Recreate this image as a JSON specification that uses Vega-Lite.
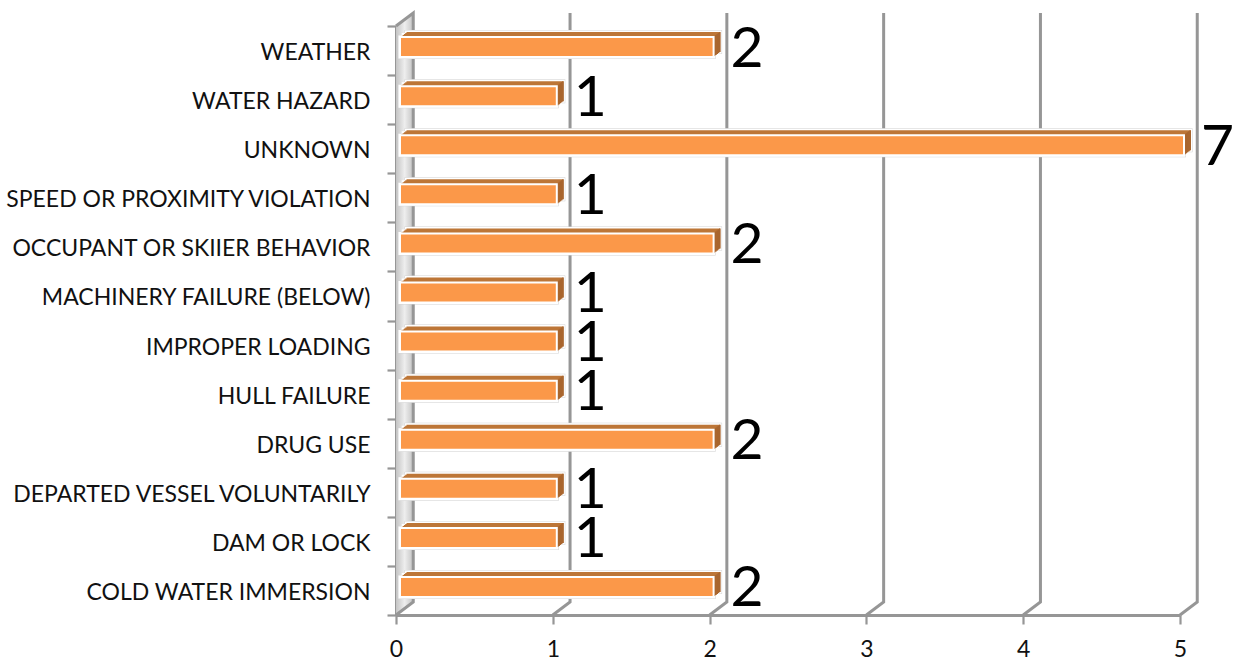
{"$schema":"https://vega.github.io/schema/vega-lite/v6.json","width":784,"height":589,"autosize":{"type":"none"},"padding":{"left":396,"top":26,"right":56,"bottom":45},"background":"white","config":{"view":{"stroke":null}},
"resolve":{"scale":{"x":"independent","y":"independent"},"axis":{"x":"independent","y":"independent"}},
"layer":[
{"data":{"values":[{"px":0,"y0":0,"y1":1},{"px":0.11,"y0":0.0221,"y1":1.0221}]},"mark":{"type":"area","clip":false,"fill":{"gradient":"linear","x1":0,"y1":0,"x2":1,"y2":0,"stops":[{"offset":0,"color":"#c4c4c4"},{"offset":0.5,"color":"#eeeeee"},{"offset":1,"color":"#c4c4c4"}]}},
"encoding":{"x":{"field":"px","type":"quantitative","axis":null,"scale":{"domain":[0,5],"nice":false}},"y":{"field":"y0","type":"quantitative","axis":null,"scale":{"domain":[0,1],"nice":false,"zero":false}},"y2":{"field":"y1"}}},
{"data":{"values":[
{"g":0,"s":0,"px":0,"py":1},{"g":0,"s":1,"px":0.11,"py":1.0221},{"g":0,"s":2,"px":0.11,"py":0.0221},{"g":0,"s":3,"px":0,"py":0},
{"g":1,"s":0,"px":1,"py":0},{"g":1,"s":1,"px":1.11,"py":0.0221},{"g":1,"s":2,"px":1.11,"py":1.0221},
{"g":2,"s":0,"px":2,"py":0},{"g":2,"s":1,"px":2.11,"py":0.0221},{"g":2,"s":2,"px":2.11,"py":1.0221},
{"g":3,"s":0,"px":3,"py":0},{"g":3,"s":1,"px":3.11,"py":0.0221},{"g":3,"s":2,"px":3.11,"py":1.0221},
{"g":4,"s":0,"px":4,"py":0},{"g":4,"s":1,"px":4.11,"py":0.0221},{"g":4,"s":2,"px":4.11,"py":1.0221},
{"g":5,"s":0,"px":5,"py":0},{"g":5,"s":1,"px":5.11,"py":0.0221},{"g":5,"s":2,"px":5.11,"py":1.0221}
]},"mark":{"type":"line","color":"#969696","strokeWidth":3,"clip":false,"interpolate":"linear"},
"encoding":{"x":{"field":"px","type":"quantitative","axis":null,"scale":{"domain":[0,5],"nice":false}},"y":{"field":"py","type":"quantitative","axis":null,"scale":{"domain":[0,1],"nice":false,"zero":false}},"detail":{"field":"g"},"order":{"field":"s"}}},
{"data":{"values":[
{"cause":"WEATHER","count":2},{"cause":"WATER HAZARD","count":1},{"cause":"UNKNOWN","count":7},{"cause":"SPEED OR PROXIMITY VIOLATION","count":1},{"cause":"OCCUPANT OR SKIIER BEHAVIOR","count":2},{"cause":"MACHINERY FAILURE (BELOW)","count":1},{"cause":"IMPROPER LOADING","count":1},{"cause":"HULL FAILURE","count":1},{"cause":"DRUG USE","count":2},{"cause":"DEPARTED VESSEL VOLUNTARILY","count":1},{"cause":"DAM OR LOCK","count":1},{"cause":"COLD WATER IMMERSION","count":2}]},
"encoding":{
"y":{"field":"cause","type":"nominal","sort":null,"title":null,"scale":{"paddingInner":0,"paddingOuter":0},"axis":{"domain":true,"domainColor":"#969696","domainWidth":3,"tickColor":"#969696","tickWidth":2.2,"tickSize":9,"tickBand":"extent","labelFont":"Lato","labelFontSize":23,"labelColor":"#111111","labelPadding":17,"labelLimit":400,"labelOffset":2,"grid":false}},
"x":{"field":"count","type":"quantitative","title":null,"scale":{"domain":[0,5],"clamp":true,"nice":false},"axis":{"values":[0,1,2,3,4,5],"format":"d","grid":false,"domain":true,"domainColor":"#969696","domainWidth":3,"tickColor":"#969696","tickWidth":2.2,"tickSize":9,"labelFont":"Lato","labelFontSize":23,"labelFlush":false,"labelColor":"#111111","labelPadding":14}}},
"layer":[
{"mark":{"type":"bar","size":20,"fill":"white","stroke":"#d4d4d4","strokeWidth":4,"xOffset":4,"x2Offset":4,"yOffset":-3.5}},
{"mark":{"type":"bar","size":20,"fill":"white","stroke":"#d4d4d4","strokeWidth":4,"xOffset":10.5,"x2Offset":10.5,"yOffset":-8.5}},
{"mark":{"type":"bar","size":20,"fill":"white","stroke":"white","strokeWidth":3,"xOffset":4,"x2Offset":4,"yOffset":-3.5}},
{"mark":{"type":"bar","size":20,"fill":"white","stroke":"white","strokeWidth":3,"xOffset":7.2,"x2Offset":7.2,"yOffset":-6}},
{"mark":{"type":"bar","size":20,"fill":"white","stroke":"white","strokeWidth":3,"xOffset":10.5,"x2Offset":10.5,"yOffset":-8.5}},
{"mark":{"type":"bar","size":20,"fill":"#BD7637","xOffset":5.3,"x2Offset":5.3,"yOffset":-4.5}},
{"mark":{"type":"bar","size":20,"fill":"#BD7637","xOffset":6.6,"x2Offset":6.6,"yOffset":-5.5}},
{"mark":{"type":"bar","size":20,"fill":"#BD7637","xOffset":7.9,"x2Offset":7.9,"yOffset":-6.5}},
{"mark":{"type":"bar","size":20,"fill":"#BD7637","xOffset":9.2,"x2Offset":9.2,"yOffset":-7.5}},
{"mark":{"type":"bar","size":20,"fill":"#BD7637","xOffset":10.5,"x2Offset":10.5,"yOffset":-8.5}},
{"mark":{"type":"tick","size":20,"thickness":1.6,"color":"#A8652E","opacity":1,"xOffset":5,"yOffset":-4.5}},
{"mark":{"type":"tick","size":20,"thickness":1.6,"color":"#A8652E","opacity":1,"xOffset":6.3,"yOffset":-5.5}},
{"mark":{"type":"tick","size":20,"thickness":1.6,"color":"#A8652E","opacity":1,"xOffset":7.6,"yOffset":-6.5}},
{"mark":{"type":"tick","size":20,"thickness":1.6,"color":"#A8652E","opacity":1,"xOffset":8.9,"yOffset":-7.5}},
{"mark":{"type":"tick","size":20,"thickness":1.6,"color":"#A8652E","opacity":1,"xOffset":10.2,"yOffset":-8.5}},
{"mark":{"type":"bar","size":20,"fill":"#FB9849","stroke":"white","strokeWidth":2,"xOffset":4,"x2Offset":4,"yOffset":-3.5}},
{"mark":{"type":"text","align":"left","baseline":"middle","dx":21,"dy":-1,"font":"Lato","fontSize":57,"fill":"black"},"encoding":{"text":{"field":"count","type":"quantitative"}}}
]}
]}
